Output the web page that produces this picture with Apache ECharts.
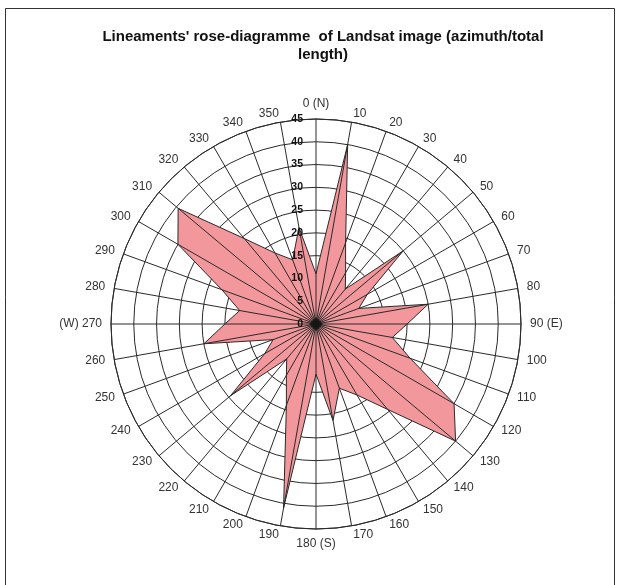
<!DOCTYPE html>
<html>
<head>
<meta charset="utf-8">
<script src="https://cdn.jsdelivr.net/npm/echarts@6/dist/echarts.min.js"></script>
<style>
html,body{margin:0;padding:0;background:#fff;}
#c{width:620px;height:585px;}
</style>
</head>
<body>
<div id="c"></div>
<script>
const titleText = "Lineaments' rose-diagramme  of Landsat image (azimuth/total\nlength)";
const azimuths = [0,10,20,30,40,50,60,70,80,90,100,110,120,130,140,150,160,170,180,190,200,210,220,230,240,250,260,270,280,290,300,310,320,330,340,350];
const totalLength = [11,40,19,13,10,25,13,10,25,20,17,22,35,40,24.5,18,15,21.5,11,41,19,13,10,24.5,13,10,25,20,17,22,35,39.5,24.5,18,15,21.5];
const radialTicks = [0,5,10,15,20,25,30,35,40,45];
const compassNames = {0:'0 (N)',90:'90 (E)',180:'180 (S)',270:'(W) 270'};

const FONT = 'Liberation Sans, Arial, sans-serif';
const seriesData = azimuths.map((a,i)=>[totalLength[i], a]);
seriesData.push([totalLength[0], 360]);

// radar indicators run counter-clockwise, so list azimuths as 0, 350, 340 ... 10
const nameOrder = [azimuths[0]].concat(azimuths.slice(1).reverse());
const indicators = nameOrder.map(a => ({name: compassNames[a] !== undefined ? compassNames[a] : String(a), min:0, max:45}));

const C = [316,324], R = 205;
const chart = echarts.init(document.getElementById('c'), null, {renderer:'canvas'});
chart.setOption({
  animation:false,
  backgroundColor:'#ffffff',
  graphic:[
    {type:'rect', shape:{x:5.5,y:8.5,width:609,height:600}, style:{fill:null, stroke:'#333', lineWidth:1}, silent:true},
    {type:'text', x:323, y:27.5, silent:true,
     style:{text:titleText, align:'center', verticalAlign:'top', fill:'#111', font:'bold 15px ' + FONT, lineHeight:18}}
  ],
  radar:{
    center:C, radius:R, startAngle:90, shape:'circle', splitNumber:9, indicator:indicators,
    nameGap:9,
    axisName:{color:'#333', fontSize:12, fontFamily:FONT},
    axisLine:{show:false}, splitLine:{show:false}, splitArea:{show:false},
    axisTick:{show:false}, axisLabel:{show:false}, silent:true
  },
  polar:[{center:C, radius:R},{center:C, radius:R}],
  angleAxis:[
    {polarIndex:0, type:'value', min:0, max:360, interval:10, startAngle:90, clockwise:true,
     axisLine:{show:false}, axisTick:{show:false}, axisLabel:{show:false}, splitLine:{show:false}, z:0},
    {polarIndex:1, type:'value', min:0, max:360, interval:10, startAngle:90, clockwise:true, z:10,
     axisLine:{show:true, lineStyle:{color:'#2a2a2a', width:1}},
     axisTick:{show:false}, axisLabel:{show:false},
     splitLine:{show:true, lineStyle:{color:'#2a2a2a', width:1}}
    }
  ],
  radiusAxis:[
    {polarIndex:0, type:'value', min:radialTicks[0], max:radialTicks[radialTicks.length-1], interval:5, z:0,
     axisLine:{show:false}, axisTick:{show:false}, axisLabel:{show:false},
     splitLine:{show:true, lineStyle:{color:'#2a2a2a', width:1}}},
    {polarIndex:1, type:'value', min:radialTicks[0], max:radialTicks[radialTicks.length-1], interval:5, z:11,
     axisLine:{show:false}, axisTick:{show:false}, splitLine:{show:false},
     axisLabel:{show:true, margin:13, color:'#111', fontSize:10.5, fontWeight:'bold', fontFamily:FONT}}
  ],
  series:[{
    type:'line', coordinateSystem:'polar', polarIndex:0, data:seriesData, symbol:'none', z:2,
    lineStyle:{color:'#2a2a2a', width:1},
    areaStyle:{color:'#F2979B', opacity:1}
  },{
    type:'scatter', coordinateSystem:'polar', polarIndex:1, data:[[0,0]], symbol:'diamond', symbolSize:14, z:12,
    itemStyle:{color:'#111'}, silent:true
  }]
});
</script>
</body>
</html>
